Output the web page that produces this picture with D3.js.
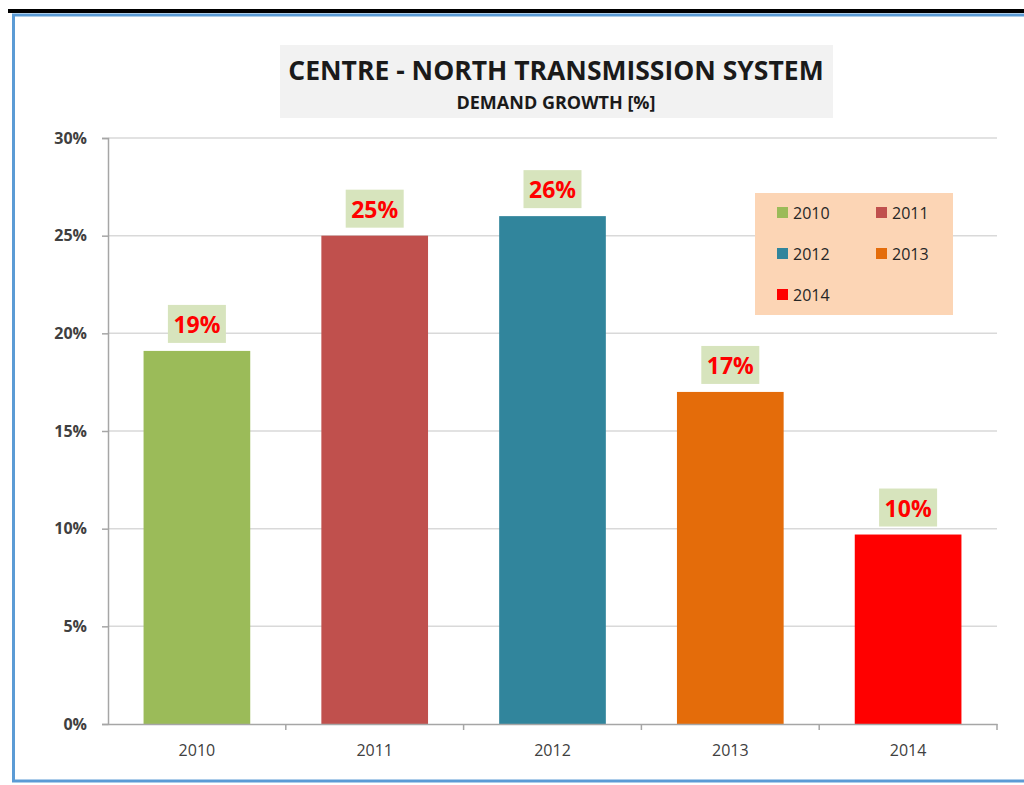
<!DOCTYPE html>
<html>
<head>
<meta charset="utf-8">
<script src="https://cdnjs.cloudflare.com/ajax/libs/d3/7.8.5/d3.min.js"></script>
<style>
  body { margin: 0; background: #fff; }
  svg { display: block; font-family: "Open Sans", sans-serif; }
</style>
</head>
<body>
<script>
// chart data
var years = ["2010", "2011", "2012", "2013", "2014"];
var growth = [19.1, 25.0, 26.0, 17.0, 9.7];
var labels = ["19%", "25%", "26%", "17%", "10%"];
var colors = ["#9bbb59", "#c0504d", "#31859c", "#e46c0a", "#ff0000"];
var yticks = [0, 5, 10, 15, 20, 25, 30];

var W = 1024, H = 785;
var margin = {top: 138, right: 27, bottom: 61, left: 108};
var w = W - margin.left - margin.right,
    h = H - margin.top - margin.bottom;

var svg = d3.select("body").append("svg")
    .attr("width", W)
    .attr("height", H);

// frame: black rule on top and blue border
svg.append("rect").attr("x", 8).attr("y", 9).attr("width", W).attr("height", 4).attr("fill", "#000");
svg.append("rect").attr("x", 13.5).attr("y", 15).attr("width", W).attr("height", 766)
    .attr("fill", "none").attr("stroke", "#5b9bd5").attr("stroke-width", 3);

// title box
svg.append("rect").attr("x", 280).attr("y", 45).attr("width", 553).attr("height", 73).attr("fill", "#f2f2f2");
svg.append("text").attr("x", 556).attr("y", 80).attr("text-anchor", "middle")
    .attr("font-size", "26.5px").attr("font-weight", "bold").attr("fill", "#1a1a1a")
    .text("CENTRE - NORTH TRANSMISSION SYSTEM");
svg.append("text").attr("x", 556).attr("y", 109).attr("text-anchor", "middle")
    .attr("font-size", "18px").attr("font-weight", "bold").attr("fill", "#1a1a1a")
    .text("DEMAND GROWTH [%]");

var g = svg.append("g").attr("transform", "translate(" + margin.left + "," + margin.top + ")");

// scales
var x = d3.scaleBand().domain(years).range([0, w]).paddingInner(0.4).paddingOuter(0.2);
var xb = d3.scaleBand().domain(years).range([0, w]);
var y = d3.scaleLinear().domain([0, 30]).range([h, 0]);

// gridlines
g.selectAll(".grid").data(yticks.slice(1)).enter().append("line")
    .attr("x1", 0).attr("x2", w)
    .attr("y1", function(d) { return y(d); }).attr("y2", function(d) { return y(d); })
    .attr("stroke", "#d9d9d9").attr("stroke-width", 1.5);

// y axis
var yaxis = g.append("g")
    .call(d3.axisLeft(y).tickValues(yticks).tickSize(6).tickFormat(function(d) { return d + "%"; }));
yaxis.select(".domain").attr("stroke", "#a6a6a6").attr("stroke-width", 1.5);
yaxis.selectAll(".tick line").attr("stroke", "#a6a6a6").attr("stroke-width", 1.5);
yaxis.selectAll("text").attr("font-size", "16px").attr("font-weight", "bold").attr("fill", "#404040")
    .attr("x", -21).attr("font-family", "'Open Sans', sans-serif");

// bars
g.selectAll(".bar").data(growth).enter().append("rect")
    .attr("class", "bar")
    .attr("x", function(d, i) { return x(years[i]); })
    .attr("y", function(d) { return y(d); })
    .attr("width", x.bandwidth())
    .attr("height", function(d) { return h - y(d); })
    .attr("fill", function(d, i) { return colors[i]; });

// x axis
var xaxis = g.append("g").attr("transform", "translate(0," + h + ")")
    .call(d3.axisBottom(xb).tickSize(0).tickPadding(21));
xaxis.select(".domain").attr("stroke", "#a6a6a6").attr("stroke-width", 1.5);
xaxis.selectAll("text").attr("font-size", "16px").attr("fill", "#404040")
    .attr("font-family", "'Open Sans', sans-serif");
// category separator ticks
g.selectAll(".xtick").data(years).enter().append("line")
    .attr("x1", function(d) { return xb(d) + xb.bandwidth(); })
    .attr("x2", function(d) { return xb(d) + xb.bandwidth(); })
    .attr("y1", h).attr("y2", h + 6)
    .attr("stroke", "#a6a6a6").attr("stroke-width", 1.5);

// value labels
var lab = g.selectAll(".lab").data(growth).enter().append("g")
    .attr("transform", function(d, i) { return "translate(" + (x(years[i]) + x.bandwidth() / 2) + "," + (y(d) - 27) + ")"; });
lab.append("rect").attr("x", -29).attr("y", -19).attr("width", 58).attr("height", 38).attr("fill", "#d7e4bd");
lab.append("text").attr("text-anchor", "middle").attr("y", 9)
    .attr("font-size", "23px").attr("font-weight", "bold").attr("fill", "#ff0000")
    .text(function(d, i) { return labels[i]; });

// legend
var legend = svg.append("g").attr("transform", "translate(755,193)");
legend.append("rect").attr("width", 198).attr("height", 122).attr("fill", "#fcd5b5");
var item = legend.selectAll(".item").data(years).enter().append("g")
    .attr("transform", function(d, i) { return "translate(" + (22 + (i % 2) * 99) + "," + (20 + Math.floor(i / 2) * 41) + ")"; });
item.append("rect").attr("x", 0).attr("y", -6).attr("width", 11).attr("height", 11)
    .attr("fill", function(d, i) { return colors[i]; });
item.append("text").attr("x", 16).attr("y", 6).attr("font-size", "16px").attr("fill", "#262626")
    .text(function(d) { return d; });
</script>
</body>
</html>
